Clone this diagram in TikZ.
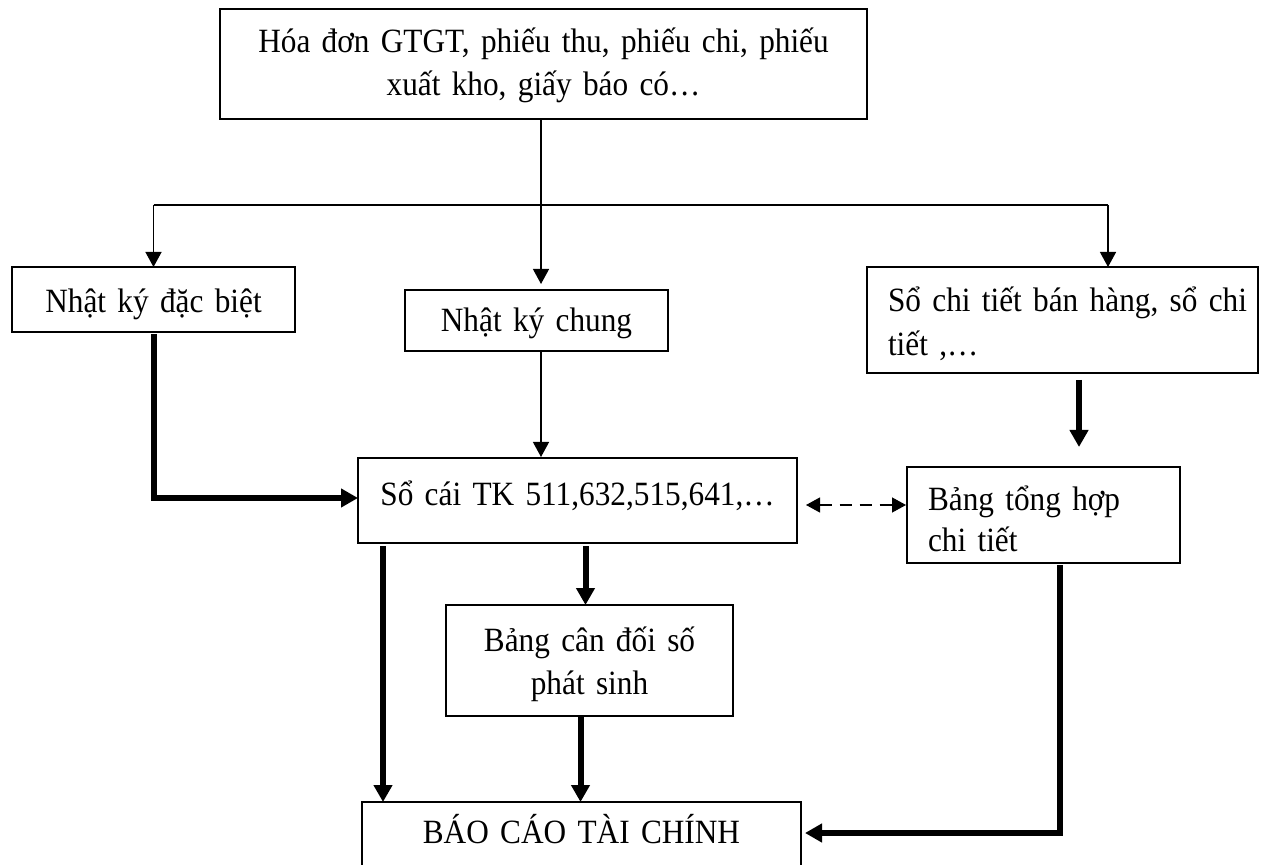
\documentclass[tikz,border=0pt]{standalone}
\usepackage{fontspec}
\setmainfont[FakeStretch=0.92,WordSpace=0.8]{Liberation Serif}
\usetikzlibrary{arrows.meta,calc}

\tikzset{
  box/.style={draw, line width=0.75pt, outer sep=0pt, inner xsep=4pt, inner ysep=0pt,
    font=\fontsize{17}{20.5}\selectfont},
  thinline/.style={line width=0.65pt},
  thinarrow/.style={line width=0.65pt, -{Triangle[length=7.5pt,width=8pt]}},
  thickarrow/.style={line width=3pt, -{Triangle[length=8.5pt,width=9pt]}},
  dasharrow/.style={line width=0.65pt, dash pattern=on 6pt off 4pt,
    {Triangle[length=7pt,width=7.5pt]}-{Triangle[length=7pt,width=7.5pt]}},
}

\begin{document}
\begin{tikzpicture}[x=0.5pt,y=-0.5pt]
\useasboundingbox (0,0) rectangle (1262,865);
\fill[white] (0,0) rectangle (1262,865);
\clip (0,0) rectangle (1262,865);

% source documents
\node[box, minimum width=323.5pt, minimum height=55pt, text width=315.5pt, align=center,
  text height=9.5pt, text depth=20.5pt, font=\fontsize{17}{21.5}\selectfont]
  (src) at (543.5,64) {Hóa đơn GTGT, phiếu thu, phiếu chi, phiếu\\xuất kho, giấy báo có…};

% journals and detail ledgers
\node[box, minimum width=141.5pt, minimum height=32.5pt, text width=133.5pt, align=center,
  text height=21.75pt, text depth=8.25pt] (nkdb) at (153.5,299.5) {Nhật ký đặc biệt};
\node[box, minimum width=131.5pt, minimum height=30.5pt, text width=123.5pt, align=center,
  text height=19.75pt, text depth=8.25pt] (nkc) at (536.5,320.5) {Nhật ký chung};
\node[box, minimum width=195.5pt, minimum height=53pt, inner xsep=10.5pt, text width=174.5pt, align=left,
  text height=11pt, text depth=19pt, font=\fontsize{17}{22}\selectfont]
  (sct) at (1062.5,320) {\mbox{Sổ chi tiết bán hàng, sổ chi}\\tiết ,…};

% general ledger and summaries
\node[box, minimum width=219.5pt, minimum height=42.5pt, text width=211.5pt, align=center,
  text height=17.25pt, text depth=12.75pt] (socai) at (577.5,500.5) {Sổ cái TK 511,632,515,641,…};
\node[box, minimum width=136.5pt, minimum height=48pt, inner xsep=10.5pt, text width=115.5pt, align=left,
  text height=12.5pt, text depth=17.5pt] (btct) at (1043.5,515) {Bảng tổng hợp\\chi tiết};
\node[box, minimum width=143.5pt, minimum height=55.5pt, text width=135.5pt, align=center,
  text height=10.25pt, text depth=19.75pt, font=\fontsize{17}{21.5}\selectfont]
  (bcd) at (589.5,660.5) {Bảng cân đối số\\phát sinh};

% financial statements
\node[box, minimum width=219.5pt, minimum height=33pt, text width=211.5pt, align=center,
  text height=19pt, text depth=11pt] (bctc) at (581.5,835) {BÁO CÁO TÀI CHÍNH};

% distribution from the source documents
\coordinate (hub) at (541,205);
\coordinate (hubL) at (nkdb.north |- hub);
\coordinate (hubR) at ($(sct.north |- hub)+(45.5,0)$);
\draw[thinline] (src.south -| hub) -- (hub);
\draw[thinline] (hubL) -- (hubR);
\draw[thinarrow] (hubL) -- (nkdb.north);
\draw[thinarrow] (hub) -- ($(hub |- nkc.north)+(0,-6)$);
\draw[thinarrow] (hubR) -- (hubR |- sct.north);

% postings to the ledger
\draw[thinarrow] (nkc.south -| hub) -- ($(hub |- socai.north)+(0,-1)$);
\draw[thickarrow] ($(nkdb.south)+(0,2)$) |- ($(socai.west)+(0,-2.5)$);
\draw[thickarrow] ($(sct.south)+(16.5,7)$) -- ($(btct.north)+(35.5,-20)$);
\draw[dasharrow] ($(socai.east)+(9,4.5)$) -- ($(socai.east -| btct.west)+(-1,4.5)$);

% towards the financial statements
\draw[thickarrow] ($(socai.south west)+(25,3)$) -- ($(socai.south west |- bctc.north)+(25,0)$);
\draw[thickarrow] ($(bcd.north |- socai.south)+(-4,3)$) -- ($(bcd.north)+(-4,0)$);
\draw[thickarrow] ($(bctc.north |- bcd.south)+(-1,1)$) -- ($(bctc.north)+(-1,0)$);
\draw[thickarrow] ($(btct.south)+(16.5,2)$) |- ($(bctc.east)+(4,-2)$);
\end{tikzpicture}
\end{document}
